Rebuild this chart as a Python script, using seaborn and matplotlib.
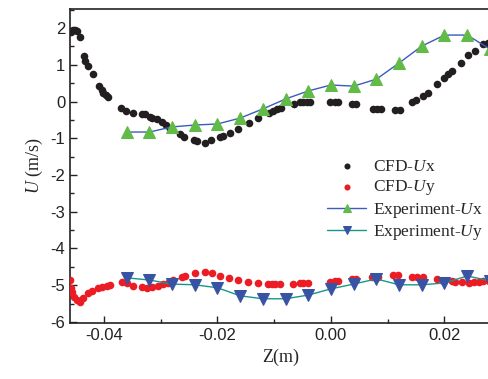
import numpy as np
import pandas as pd
import matplotlib
matplotlib.use("Agg")
import matplotlib.pyplot as plt
import seaborn as sns
from matplotlib.ticker import MultipleLocator

# ---- data ----
cfd_ux_z = [-0.0458, -0.0455, -0.0451, -0.0448, -0.0442, -0.0435, -0.0433, -0.0428, -0.0419,
            -0.0409, -0.0403, -0.0402, -0.0396, -0.0393, -0.0370, -0.0361, -0.0349, -0.0333,
            -0.0328, -0.0319, -0.0315, -0.0307, -0.0298, -0.0291, -0.0284, -0.0266, -0.0259,
            -0.0241, -0.0236, -0.0222, -0.0211, -0.0196, -0.0190, -0.0178, -0.0164, -0.0144,
            -0.0129, -0.0109, -0.0102, -0.0095, -0.0088, -0.0065, -0.0055, -0.0049, -0.0042,
            -0.0037, -0.0002, 0.0007, 0.0012, 0.0037, 0.0044, 0.0074, 0.0081, 0.0088, 0.0113,
            0.0122, 0.0143, 0.0150, 0.0162, 0.0171, 0.0187, 0.0199, 0.0206, 0.0213, 0.0229,
            0.0241, 0.0254, 0.0268, 0.0277]
cfd_ux = [1.89, 1.95, 1.95, 1.92, 1.76, 1.24, 1.10, 0.97, 0.75,
          0.42, 0.31, 0.23, 0.18, 0.12, -0.18, -0.26, -0.31, -0.34,
          -0.34, -0.42, -0.45, -0.48, -0.56, -0.64, -0.75, -0.88, -0.96,
          -1.05, -1.07, -1.13, -1.05, -0.97, -0.94, -0.86, -0.75, -0.59,
          -0.45, -0.32, -0.26, -0.21, -0.18, -0.07, -0.02, -0.02, -0.02,
          -0.02, -0.02, -0.02, -0.02, -0.07, -0.07, -0.21, -0.21, -0.21, -0.23,
          -0.23, -0.01, 0.04, 0.15, 0.23, 0.48, 0.64, 0.75, 0.83, 1.05,
          1.27, 1.37, 1.56, 1.60]

cfd_uy_z = [-0.0460, -0.0458, -0.0456, -0.0453, -0.0448, -0.0442, -0.0437, -0.0428, -0.0421,
            -0.0411, -0.0404, -0.0395, -0.0389, -0.0368, -0.0359, -0.0349, -0.0333, -0.0324,
            -0.0315, -0.0305, -0.0296, -0.0287, -0.0278, -0.0263, -0.0257, -0.0240, -0.0222,
            -0.0210, -0.0196, -0.0180, -0.0164, -0.0146, -0.0129, -0.0111, -0.0104, -0.0099,
            -0.0090, -0.0067, -0.0055, -0.0049, -0.0041, -0.0002, 0.0007, 0.0012, 0.0037,
            0.0044, 0.0072, 0.0078, 0.0083, 0.0109, 0.0118, 0.0143, 0.0152, 0.0162, 0.0187,
            0.0197, 0.0213, 0.0219, 0.0231, 0.0243, 0.0252, 0.0261, 0.0268, 0.0278]
cfd_uy = [-4.86, -5.08, -5.18, -5.32, -5.40, -5.46, -5.35, -5.21, -5.16,
          -5.07, -5.05, -5.02, -4.99, -4.91, -4.94, -5.02, -5.05, -5.07,
          -5.05, -5.02, -4.97, -4.94, -4.86, -4.78, -4.75, -4.67, -4.64,
          -4.67, -4.75, -4.80, -4.86, -4.91, -4.94, -4.97, -4.97, -4.97,
          -4.97, -4.97, -4.94, -4.94, -4.94, -4.91, -4.89, -4.89, -4.83,
          -4.83, -4.78, -4.78, -4.78, -4.72, -4.72, -4.78, -4.78, -4.78, -4.83,
          -4.89, -4.89, -4.91, -4.91, -4.94, -4.91, -4.91, -4.89, -4.89]

exp_z = [-0.036, -0.032, -0.028, -0.024, -0.020, -0.016, -0.012, -0.008, -0.004,
         0.000, 0.004, 0.008, 0.012, 0.016, 0.020, 0.024, 0.028]
exp_ux = [-0.83, -0.83, -0.69, -0.64, -0.61, -0.45, -0.20, 0.07, 0.29,
          0.45, 0.42, 0.61, 1.05, 1.51, 1.81, 1.81, 1.43]
exp_uy = [-4.80, -4.86, -4.97, -4.99, -5.07, -5.29, -5.37, -5.37, -5.27,
          -5.10, -4.97, -4.83, -4.99, -4.99, -4.94, -4.75, -4.88]

xticks = [-0.04, -0.02, 0.00, 0.02]
xticklabels = ["-0.04", "-0.02", "0.00", "0.02"]
yticks = [2, 1, 0, -1, -2, -3, -4, -5, -6]

# ---- style ----
sns.set_style("ticks")
plt.rcParams["font.family"] = ["Liberation Sans", "DejaVu Sans"]
plt.rcParams["mathtext.fontset"] = "custom"
plt.rcParams["mathtext.rm"] = "Liberation Serif"
plt.rcParams["mathtext.it"] = "Liberation Serif:italic"

fig = plt.figure(figsize=(4.89, 3.79), dpi=100)
ax = fig.add_axes([70 / 489, 1 - 323 / 379, 421 / 489, (323 - 9) / 379])

df_ux = pd.DataFrame({"z": cfd_ux_z, "u": cfd_ux})
df_uy = pd.DataFrame({"z": cfd_uy_z, "u": cfd_uy})
df_ex = pd.DataFrame({"z": exp_z, "ux": exp_ux, "uy": exp_uy})

black = "#231f20"
red = "#ec1c24"
green = "#62bb46"
blue_line = "#3a5bbf"
teal = "#17968c"
blue_tri = "#3953a4"

sns.scatterplot(data=df_ux, x="z", y="u", ax=ax, color=black, s=30, linewidth=0,
                label="CFD-$\\mathit{U}$x", zorder=3)
sns.scatterplot(data=df_uy, x="z", y="u", ax=ax, color=red, s=30, linewidth=0,
                label="CFD-$\\mathit{U}$y", zorder=3)
sns.lineplot(data=df_ex, x="z", y="ux", ax=ax, color=blue_line, lw=1.0, marker="^",
             markersize=8, markerfacecolor=green, markeredgecolor=green,
             label="Experiment-$\\mathit{U}$x", sort=False, zorder=4)
sns.lineplot(data=df_ex, x="z", y="uy", ax=ax, color=teal, lw=1.0, marker="v",
             markersize=8, markerfacecolor=blue_tri, markeredgecolor=blue_tri,
             label="Experiment-$\\mathit{U}$y", sort=False, zorder=4)

ax.set_xlim((70 - 331) / 5675, (491 - 331) / 5675)
ax.set_ylim(-6.03, 2.52)
ax.set_xticks(xticks)
ax.set_xticklabels(xticklabels)
ax.set_yticks(yticks)
ax.set_yticklabels([str(v) for v in yticks])
ax.xaxis.set_minor_locator(MultipleLocator(0.01))
ax.yaxis.set_minor_locator(MultipleLocator(0.5))
ax.tick_params(which="both", direction="in", top=False, right=False, labelsize=12, colors="#222222")
ax.tick_params(which="major", length=5, width=1)
ax.tick_params(which="minor", length=3, width=1)
for sp in ax.spines.values():
    sp.set_visible(True)
    sp.set_color("#222222")
    sp.set_linewidth(1.2)

ax.set_xlabel("Z(m)", fontsize=13, family="Liberation Serif", labelpad=4)
ax.set_ylabel("$\\mathit{U}$ (m/s)", fontsize=13, family="Liberation Serif", labelpad=4)

leg = ax.legend(loc="upper left", bbox_to_anchor=(0.595, 0.545), frameon=False,
                prop={"family": "Liberation Serif", "size": 12.5},
                handlelength=2.2, handletextpad=0.4, labelspacing=0.2, borderaxespad=0,
                markerscale=0.8)

fig.savefig("out.png", dpi=100)
